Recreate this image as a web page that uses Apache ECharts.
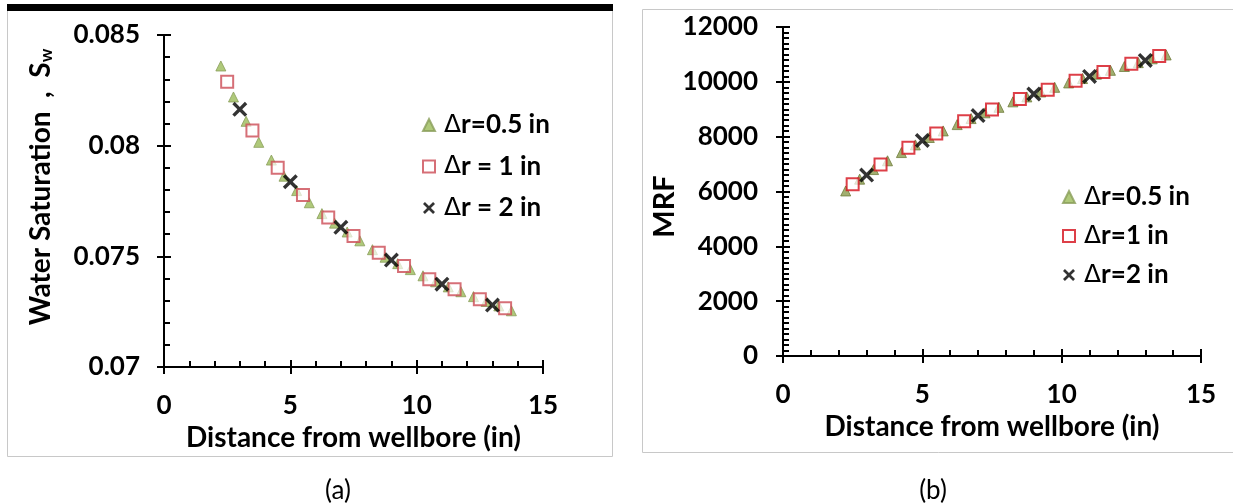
<!DOCTYPE html>
<html>
<head>
<meta charset="utf-8">
<script src="https://cdn.jsdelivr.net/npm/echarts@6/dist/echarts.min.js"></script>
<style>
html,body{margin:0;padding:0;background:#fff;}
#c{width:1233px;height:503px;}
</style>
</head>
<body>
<div id="c"></div>
<script>
// ---------- DATA ----------
const xHalf = [2.25,2.75,3.25,3.75,4.25,4.75,5.25,5.75,6.25,6.75,7.25,7.75,8.25,8.75,9.25,9.75,10.25,10.75,11.25,11.75,12.25,12.75,13.25,13.75];
const xOne  = [2.5,3.5,4.5,5.5,6.5,7.5,8.5,9.5,10.5,11.5,12.5,13.5];
const xTwo  = [3,5,7,9,11,13];

// (a) water saturation
const swHalf = [0.08360,0.08220,0.08110,0.08015,0.07935,0.07862,0.07797,0.07742,0.07693,0.07650,0.07610,0.07570,0.07530,0.07496,0.07467,0.07440,0.07412,0.07385,0.07362,0.07340,0.07318,0.07296,0.07276,0.07254];
const swOne  = [0.08289,0.08068,0.07900,0.07777,0.07675,0.07592,0.07516,0.07456,0.07396,0.07351,0.07306,0.07265];
const swTwo  = [0.08164,0.07837,0.07631,0.07483,0.07374,0.07280];

// (b) MRF
const mrfHalf = [6020,6450,6800,7120,7420,7700,7970,8210,8440,8660,8870,9070,9270,9450,9630,9800,9960,10120,10280,10420,10560,10700,10840,10980];
const mrfOne  = [6262,6988,7593,8115,8563,8988,9375,9715,10042,10356,10660,10938];
const mrfTwo  = [6599,7861,8770,9557,10199,10781];

const namesA = ['Δr=0.5 in','Δr = 1 in','Δr = 2 in'];
const namesB = ['Δr=0.5 in','Δr=1 in','Δr=2 in'];
const xTitle = 'Distance from wellbore (in)';

// ---------- HELPERS ----------
const pairs = (xs, ys) => xs.map((x, i) => [x, ys[i]]);
const FONT = 'Lato, "Open Sans", "DejaVu Sans", sans-serif';
const X_PATH = 'path://M0,1.6 L1.6,0 L5,3.4 L8.4,0 L10,1.6 L6.6,5 L10,8.4 L8.4,10 L5,6.6 L1.6,10 L0,8.4 L3.4,5 Z';

function axisPair(kind, grid, min, max, interval, minorSplit, labelOpts) {
  const main = {
    type: 'value', gridIndex: grid, min, max, interval,
    position: kind === 'x' ? 'bottom' : 'left',
    axisLine: {show: true, onZero: false, lineStyle: {color: '#000', width: 2}},
    axisTick: {show: true, inside: false, length: 7, lineStyle: {color: '#000', width: 2}},
    splitLine: {show: false},
    axisLabel: Object.assign({color: '#000', fontFamily: FONT, fontWeight: 'bold', fontSize: 26}, labelOpts.label),
  };
  Object.assign(main, labelOpts.name || {});
  const overlay = {
    type: 'value', gridIndex: grid, min, max, interval,
    position: kind === 'x' ? 'bottom' : 'left',
    axisLine: {show: false, onZero: false},
    axisTick: {show: true, inside: true, length: 7, lineStyle: {color: '#000', width: 2}},
    minorTick: {show: true, splitNumber: minorSplit, length: 6, lineStyle: {color: '#000', width: 2}},
    splitLine: {show: false},
    axisLabel: {show: false}
  };
  return [main, overlay];
}

const xNameStyle = {fontFamily: FONT, fontWeight: 'bold', fontSize: 28, color: '#000'};

const [ax0, ax0o] = axisPair('x', 0, 0, 15, 5, 5, {
  label: {margin: 26},
  name: {name: xTitle, nameLocation: 'middle', nameGap: 56, nameTextStyle: xNameStyle}
});
const [ay0, ay0o] = axisPair('y', 0, 0.07, 0.085, 0.005, 5, {
  label: {margin: 24},
  name: {
    name: 'Water Saturation  ,  S{s|w}', nameLocation: 'middle', nameGap: 109, nameRotate: 90,
    nameTextStyle: {fontFamily: FONT, fontWeight: 'bold', fontSize: 28, color: '#000', padding: [0, 0, 0, 28],
      rich: {s: {fontFamily: FONT, fontWeight: 'bold', fontSize: 17, color: '#000', verticalAlign: 'bottom', padding: [12, 0, 0, 0]}}}
  }
});
const [ax1, ax1o] = axisPair('x', 1, 0, 15, 5, 5, {
  label: {margin: 26},
  name: {name: xTitle, nameLocation: 'middle', nameGap: 56, nameTextStyle: xNameStyle}
});
const [ay1, ay1o] = axisPair('y', 1, 0, 12000, 2000, 10, {
  label: {margin: 25, formatter: v => String(v)},
  name: {
    name: 'MRF', nameLocation: 'middle', nameGap: 99, nameRotate: 90,
    nameTextStyle: {fontFamily: FONT, fontWeight: 'bold', fontSize: 29, color: '#000', padding: [0, 30, 0, 0]}
  }
});

const legendText = {
  fontFamily: FONT, fontWeight: 'bold', fontSize: 26, color: '#000', lineHeight: 28, padding: [0, 0, 0, 4],
  rich: {
    d: {fontFamily: '"DejaVu Sans", sans-serif', fontWeight: 'normal', fontSize: 25, color: '#000', lineHeight: 28},
    t: {fontFamily: FONT, fontWeight: 'bold', fontSize: 26, color: '#000', lineHeight: 28}
  }
};
const legendFmt = n => '{d|Δ}{t|' + n.slice(1) + '}';

const option = {
  animation: false,
  backgroundColor: '#fff',
  title: [
    {text: '(a)', left: 333, top: 473, textAlign: 'center', textStyle: {fontFamily: FONT, fontWeight: 'normal', fontSize: 26, color: '#000'}},
    {text: '(b)', left: 928, top: 473, textAlign: 'center', textStyle: {fontFamily: FONT, fontWeight: 'normal', fontSize: 26, color: '#000'}}
  ],
  graphic: [
    {type: 'rect', shape: {x: 7.5, y: 8.5, width: 605, height: 448}, style: {fill: 'none', stroke: '#c8c8c8', lineWidth: 1}, z: -10},
    {type: 'rect', shape: {x: 642.5, y: 9.5, width: 620, height: 443}, style: {fill: 'none', stroke: '#c8c8c8', lineWidth: 1}, z: -10},
    {type: 'rect', shape: {x: 7, y: 4, width: 606, height: 7}, style: {fill: '#000'}, z: 10}
  ],
  grid: [
    {left: 164, top: 35, width: 379, height: 332},
    {left: 783, top: 27, width: 418, height: 329}
  ],
  xAxis: [ax0, ax0o, ax1, ax1o],
  yAxis: [ay0, ay0o, ay1, ay1o],
  legend: [
    {
      data: namesA, orient: 'vertical', left: 417, top: 106, itemGap: 13.5, formatter: legendFmt,
      itemWidth: 12, itemHeight: 12, textStyle: legendText, selectedMode: false
    },
    {
      data: namesB.slice(1), orient: 'vertical', left: 1057, top: 217, itemGap: 11, formatter: legendFmt,
      itemWidth: 12, itemHeight: 12, textStyle: legendText, selectedMode: false
    },
    {
      data: [namesB[0]], orient: 'vertical', left: 1057, top: 178, formatter: legendFmt,
      itemWidth: 12, itemHeight: 12, textStyle: legendText, selectedMode: false
    }
  ],
  series: [
    {name: namesA[0], type: 'scatter', xAxisIndex: 0, yAxisIndex: 0, data: pairs(xHalf, swHalf),
      symbol: 'triangle', symbolSize: 10, itemStyle: {color: '#9bbb59', borderColor: '#8a9e5a', borderWidth: 1}, z: 2},
    {name: namesA[1], type: 'scatter', xAxisIndex: 0, yAxisIndex: 0, data: pairs(xOne, swOne),
      symbol: 'rect', symbolSize: 12, itemStyle: {color: 'rgba(255,255,255,0.85)', borderColor: '#cc4b55', borderWidth: 2}, z: 3},
    {name: namesA[2], type: 'scatter', xAxisIndex: 0, yAxisIndex: 0, data: pairs(xTwo, swTwo),
      symbol: X_PATH, symbolSize: 15, itemStyle: {color: '#000'}, z: 4},
    {name: namesB[0], type: 'scatter', xAxisIndex: 2, yAxisIndex: 2, data: pairs(xHalf, mrfHalf),
      symbol: 'triangle', symbolSize: 10, itemStyle: {color: '#8a9b4c', borderColor: '#6f7d3c', borderWidth: 1}, z: 2},
    {name: namesB[1], type: 'scatter', xAxisIndex: 2, yAxisIndex: 2, data: pairs(xOne, mrfOne),
      symbol: 'rect', symbolSize: 12, itemStyle: {color: 'rgba(255,255,255,0.9)', borderColor: '#d40f1a', borderWidth: 2}, z: 3},
    {name: namesB[2], type: 'scatter', xAxisIndex: 2, yAxisIndex: 2, data: pairs(xTwo, mrfTwo),
      symbol: X_PATH, symbolSize: 15, itemStyle: {color: '#000'}, z: 4}
  ]
};

const chart = echarts.init(document.getElementById('c'), null, {renderer: 'canvas'});
chart.setOption(option);
</script>
</body>
</html>
